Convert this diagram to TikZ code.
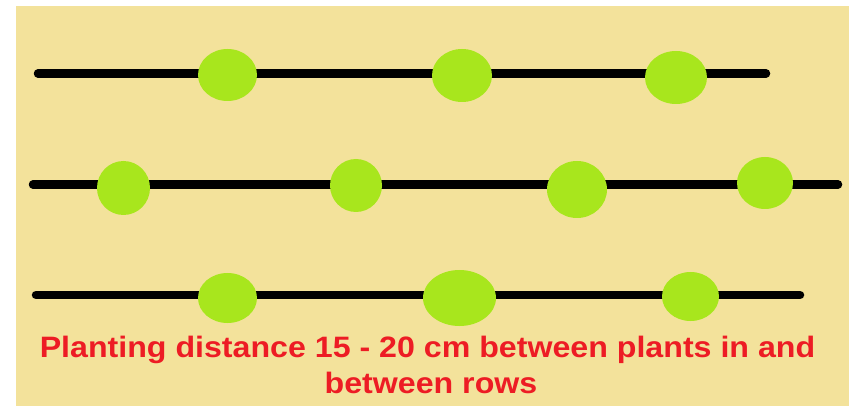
\documentclass[tikz,border=0pt]{standalone}
\usepackage{fontspec}
\setmainfont{Liberation Sans}
\newfontfamily\capfont[FakeStretch=1.09]{Liberation Sans Bold}
\definecolor{bgyellow}{HTML}{F3E29B}
\definecolor{plantgreen}{HTML}{A8E61D}
\definecolor{labelred}{HTML}{ED1C24}
\begin{document}
\begin{tikzpicture}[x=1pt,y=-1pt,
  rowline/.style={line width=8.5pt,line cap=round,black},
  caption/.style={text=labelred,font=\capfont\fontsize{29.5}{37}\selectfont,align=center}]
\useasboundingbox (0,0) rectangle (849,406);
\fill[bgyellow] (16,6) rectangle (849,406);
% row lines
\coordinate (r1a) at (38,73.5); \coordinate (r1b) at (766,73.5);
\coordinate (r2a) at (33,184.5); \coordinate (r2b) at (838,184.5);
\coordinate (r3a) at (36,295); \coordinate (r3b) at (800,295);
\draw[rowline] (r1a) -- (r1b);
\draw[rowline] (r2a) -- (r2b);
\draw[rowline] (r3a) -- (r3b);
% plants
\newcommand{\plantat}[5]{\fill[plantgreen] (#2,#3) ellipse [x radius=#4,y radius=#5]; \coordinate (#1) at (#2,#3);}
\plantat{p11}{227.5}{75}{29.5}{26}
\plantat{p12}{462}{75.5}{30}{26.5}
\plantat{p13}{676}{77.5}{31}{26.5}
\plantat{p21}{123.5}{188}{26.5}{27}
\plantat{p22}{356}{185.5}{26}{26.5}
\plantat{p23}{577}{189.5}{30}{28.5}
\plantat{p24}{765}{183}{28}{26}
\plantat{p31}{227.5}{298}{29.5}{25}
\plantat{p32}{459.5}{298}{36.5}{28}
\plantat{p33}{690.5}{296.5}{28.5}{24.5}
% caption
\node[caption,anchor=base] (cap1) at (427.5,357) {Planting distance 15 - 20 cm between plants in and};
\node[caption,anchor=base] (cap2) at (431,393) {between rows};
\end{tikzpicture}
\end{document}
